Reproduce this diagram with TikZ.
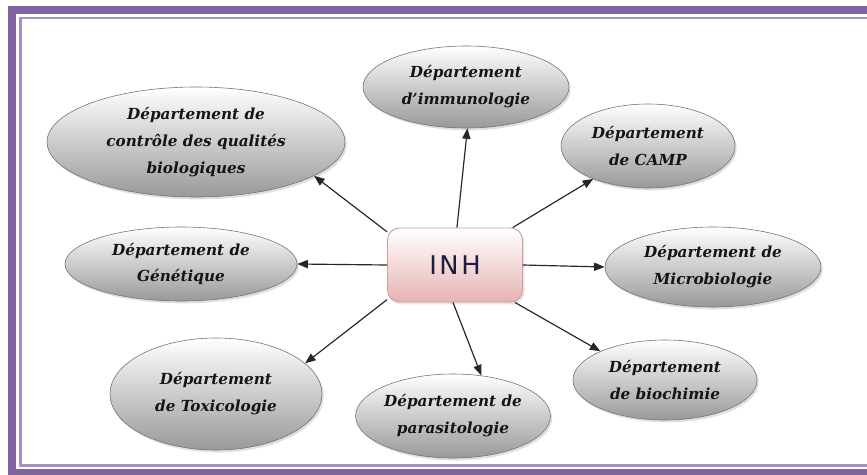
\documentclass[tikz,border=0pt]{standalone}
\usepackage{fontspec}
\newfontfamily\deptfont{DejaVu Serif}
\newfontfamily\inhfont[LetterSpace=10]{DejaVu Sans}
\usetikzlibrary{shapes.geometric,arrows.meta,shadows}
\definecolor{framepurple}{HTML}{8064A2}
\definecolor{framelight}{HTML}{A58FC4}
\definecolor{inhpink}{HTML}{E6B3B3}
\definecolor{inhborder}{HTML}{D59C9C}
\definecolor{inhtext}{HTML}{1C1C3C}
\begin{document}
\begin{tikzpicture}[x=0.03cm,y=-0.03cm,
  dept/.style={ellipse, draw=black!55, line width=0.5pt, top color=white, bottom color=black!40,
    inner sep=0pt, align=center, font=\deptfont\bfseries\itshape\fontsize{13}{23}\selectfont, text=black!92,
    drop shadow={shadow xshift=1.5pt, shadow yshift=-2pt, opacity=0.25}},
  hub/.style={rectangle, rounded corners=0.36cm, draw=inhborder, line width=0.8pt, top color=white,
    bottom color=inhpink, minimum width=4.05cm, minimum height=2.22cm,
    font=\inhfont\fontsize{22}{26}\selectfont, text=inhtext,
    drop shadow={shadow xshift=1.5pt, shadow yshift=-2pt, opacity=0.2}},
  link/.style={-{Triangle[length=9pt,width=7pt]}, line width=1pt, draw=black!85}]
\useasboundingbox (0,0) rectangle (867,474);
\begin{scope}
  \clip (0,0) rectangle (867,474);
  \fill[white] (0,0) rectangle (867,474);
  \draw[framepurple, line width=0.24cm] (12,10) rectangle (900,473);
  \draw[framelight, line width=0.07cm] (20.5,18) rectangle (890,465.5);
\end{scope}

\node[dept, minimum width=6.18cm, minimum height=2.46cm] (imm) at (466,87) {Département\\d’immunologie};
\node[dept, minimum width=8.94cm, minimum height=3.3cm] (ctrl) at (196,142) {Département de\\contrôle des qualités\\biologiques};
\node[dept, minimum width=5.22cm, minimum height=2.52cm] (camp) at (648,146) {Département\\de CAMP};
\node[dept, minimum width=6.96cm, minimum height=2.22cm] (gen) at (181,264) {Département de\\Génétique};
\node[dept, minimum width=6.48cm, minimum height=2.4cm] (micro) at (713,267) {Département de\\Microbiologie};
\node[dept, minimum width=5.52cm, minimum height=2.4cm] (bio) at (665,380) {Département\\de biochimie};
\node[dept, minimum width=6.36cm, minimum height=3.36cm] (tox) at (216,394) {Département\\de Toxicologie};
\node[dept, minimum width=5.58cm, minimum height=2.52cm] (para) at (453,416) {Département de\\parasitologie};

\node[hub] (inh) at (455,265) {INH};

\draw[link] (inh.87) -- (imm.-88);
\draw[link] (inh.154) -- (ctrl.-16);
\draw[link] (inh.33) -- (camp.-149);
\draw[link] (inh.west) -- (gen.east);
\draw[link] (inh.east) -- (micro.west);
\draw[link] (inh.-32) -- (bio.156);
\draw[link] (inh.-93) -- (para.55);
\draw[link] (inh.-153) -- (tox.19);
\end{tikzpicture}
\end{document}
